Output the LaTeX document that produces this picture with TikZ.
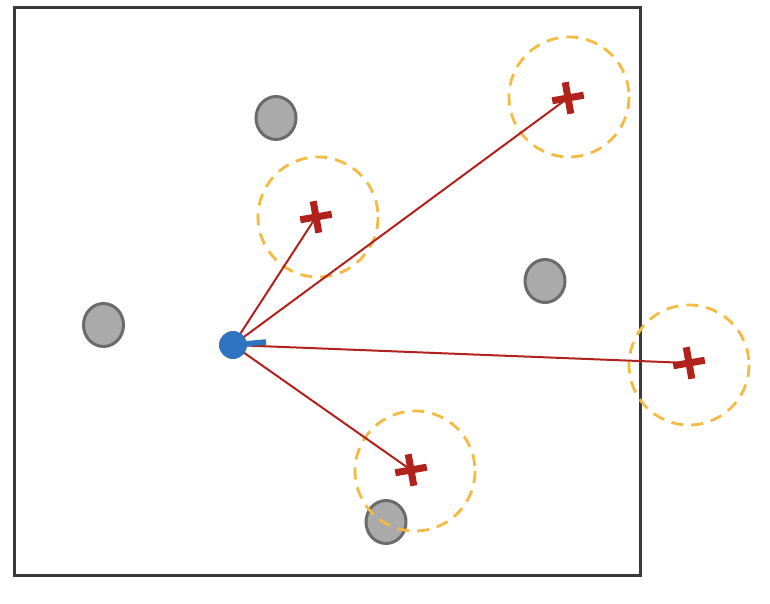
\documentclass[tikz,border=0pt]{standalone}
\definecolor{framec}{HTML}{3A3A3A}
\definecolor{obsfill}{HTML}{AAAAAA}
\definecolor{obsdraw}{HTML}{6B6B6B}
\definecolor{ringc}{HTML}{F5BA42}
\definecolor{rayc}{HTML}{B0221B}
\definecolor{robotc}{HTML}{2E74C0}
\tikzset{
  framebox/.style={draw=framec, line width=3pt},
  obstacle/.style={draw=obsdraw, fill=obsfill, line width=3pt},
  ring/.style={draw=ringc, line width=2.8pt, dash pattern=on 12pt off 8pt},
  ray/.style={draw=rayc, line width=2pt},
  robot/.style={circle, fill=robotc, minimum size=28pt, inner sep=0pt},
  heading/.style={draw=robotc, line width=5.5pt},
  crossmark/.pic={\draw[rayc, line width=7pt] (-16,0) -- (16,0) (0,-16) -- (0,16);}
}
\begin{document}
\begin{tikzpicture}[x=1pt, y=-1pt]
\useasboundingbox (0,0) rectangle (770,604);
\fill[white] (0,0) rectangle (770,604);
\draw[framebox] (14,8) rectangle (640,575);
% obstacles
\draw[obstacle] (276,118) ellipse [x radius=20, y radius=21.5];
\draw[obstacle] (545,281) ellipse [x radius=20, y radius=21.5];
\draw[obstacle] (103.5,325) ellipse [x radius=20, y radius=21.5];
\draw[obstacle] (386,522) ellipse [x radius=20, y radius=21.5];
% targets
\coordinate (t1) at (316,217);
\coordinate (t2) at (568,98);
\coordinate (t3) at (689,363);
\coordinate (t4) at (411,470);
\draw[ring] (318,217) circle [radius=60];
\draw[ring] (569,97) circle [radius=60];
\draw[ring] (689,365) circle [radius=60];
\draw[ring] (415,471) circle [radius=60];
% robot
\coordinate (r) at (233,345);
\coordinate (hd) at (266,342);
\foreach \t in {t1,t2,t3,t4} \draw[ray] (r) -- (\t);
\foreach \t in {t1,t2,t3,t4} \pic[rotate=10] at (\t) {crossmark};
\draw[heading] (r) -- (hd);
\node[robot] (rob) at (r) {};
\end{tikzpicture}
\end{document}
